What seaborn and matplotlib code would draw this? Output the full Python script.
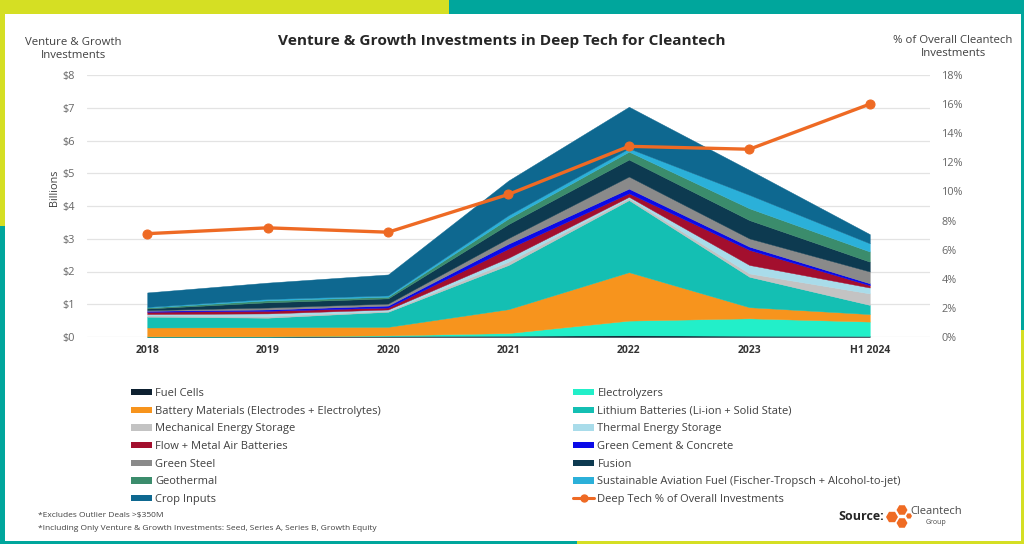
import numpy as np
import pandas as pd
import matplotlib
matplotlib.use("Agg")
import matplotlib.pyplot as plt
import seaborn as sns
from matplotlib.patches import Patch, Rectangle, RegularPolygon
from matplotlib.lines import Line2D
from matplotlib.ticker import FuncFormatter

years = ["2018", "2019", "2020", "2021", "2022", "2023", "H1 2024"]

fuel_cells = [0.01, 0.01, 0.03, 0.04, 0.05, 0.04, 0.03]
electrolyzers = [0.01, 0.01, 0.02, 0.08, 0.45, 0.53, 0.44]
battery_materials = [0.27, 0.28, 0.26, 0.73, 1.48, 0.34, 0.23]
lithium_batteries = [0.33, 0.29, 0.46, 1.35, 2.20, 0.93, 0.28]
mechanical_storage = [0.04, 0.05, 0.03, 0.10, 0.06, 0.10, 0.35]
thermal_storage = [0.04, 0.08, 0.04, 0.12, 0.04, 0.26, 0.18]
flow_metal_air = [0.07, 0.08, 0.06, 0.28, 0.11, 0.46, 0.07]
green_cement = [0.03, 0.04, 0.06, 0.15, 0.14, 0.10, 0.06]
green_steel = [0.02, 0.06, 0.06, 0.17, 0.37, 0.25, 0.36]
fusion = [0.05, 0.16, 0.16, 0.43, 0.52, 0.56, 0.30]
geothermal = [0.03, 0.06, 0.05, 0.17, 0.24, 0.36, 0.31]
saf = [0.02, 0.04, 0.04, 0.10, 0.10, 0.41, 0.25]
crop_inputs = [0.44, 0.50, 0.64, 1.06, 1.27, 0.76, 0.28]

deep_tech_pct = [7.1, 7.5, 7.2, 9.8, 13.1, 12.9, 16.0]

series_names = [
    "Fuel Cells", "Electrolyzers",
    "Battery Materials (Electrodes + Electrolytes)", "Lithium Batteries (Li-ion + Solid State)",
    "Mechanical Energy Storage", "Thermal Energy Storage",
    "Flow + Metal Air Batteries", "Green Cement & Concrete",
    "Green Steel", "Fusion",
    "Geothermal", "Sustainable Aviation Fuel (Fischer-Tropsch + Alcohol-to-jet)",
    "Crop Inputs",
]
series_values = [fuel_cells, electrolyzers, battery_materials, lithium_batteries,
                 mechanical_storage, thermal_storage, flow_metal_air, green_cement,
                 green_steel, fusion, geothermal, saf, crop_inputs]
series_colors = ["#0d2030", "#22efc9", "#f7941d", "#14bfb3",
                 "#c3c3c3", "#a9dcea", "#a30f2e", "#0a0ae8",
                 "#8a8a8a", "#0d3a50", "#3b8c6c", "#2bb0d9",
                 "#0e6890"]
line_label = "Deep Tech % of Overall Investments"
line_color = "#ee6a24"

sns.set_theme(style="white")
plt.rcParams["font.family"] = ["Open Sans", "DejaVu Sans"]

fig = plt.figure(figsize=(10.24, 5.44), dpi=100)
fig.patch.set_facecolor("white")

# decorative frame
yellow = "#d5df23"
teal = "#00a69c"
W, H = 1024.0, 544.0
def frect(x0, y0, x1, y1, c):
    fig.patches.append(Rectangle((x0 / W, 1 - y1 / H), (x1 - x0) / W, (y1 - y0) / H,
                                 transform=fig.transFigure, facecolor=c, edgecolor="none", zorder=0))
frect(0, 0, 449, 14, yellow)
frect(449, 0, 1024, 14, teal)
frect(0, 0, 5, 226, yellow)
frect(0, 226, 5, 544, teal)
frect(1021, 0, 1024, 330, teal)
frect(1021, 330, 1024, 544, yellow)
frect(0, 541, 577, 544, teal)
frect(577, 541, 1024, 544, yellow)

ax = fig.add_axes([87 / W, 1 - 337 / H, (930 - 87) / W, (337 - 75) / H])
x = np.arange(len(years))
ax.stackplot(x, *series_values, colors=series_colors, linewidth=0.3,
             edgecolor="face", zorder=2)
ax.set_xlim(-0.5, len(years) - 0.5)
ax.set_ylim(0, 8)
ax.set_yticks(range(0, 9))
ax.yaxis.set_major_formatter(FuncFormatter(lambda v, p: f"${int(v)}"))
ax.set_xticks(x)
ax.set_xticklabels(years, fontweight="bold", color="#333333", fontsize=7.5)
ax.tick_params(axis="y", colors="#666666", labelsize=7.8, pad=8.5, length=0)
ax.tick_params(axis="x", pad=6, length=0)
ax.grid(axis="y", color="#e3e3e3", linewidth=0.9, zorder=0)
ax.set_axisbelow(True)
for s in ax.spines.values():
    s.set_visible(False)
ax.set_ylabel("")

ax2 = ax.twinx()
df = pd.DataFrame({"x": x, "pct": deep_tech_pct})
sns.lineplot(data=df, x="x", y="pct", ax=ax2, color=line_color, linewidth=2.4,
             marker="o", markersize=6.5, markeredgecolor=line_color, zorder=5)
ax2.set_ylim(0, 18)
ax2.set_yticks(range(0, 19, 2))
ax2.yaxis.set_major_formatter(FuncFormatter(lambda v, p: f"{int(v)}%"))
ax2.tick_params(axis="y", colors="#666666", labelsize=7.8, pad=8.5, length=0)
ax2.set_ylabel("")
ax2.set_xlabel("")
ax2.grid(False)
for s in ax2.spines.values():
    s.set_visible(False)
ax.set_xlim(-0.5, len(years) - 0.5)

# titles and axis labels
fig.text(502 / W, 1 - 41 / H, "Venture & Growth Investments in Deep Tech for Cleantech",
         ha="center", va="center", fontsize=11.1, fontweight="bold", color="#262626")
fig.text(73 / W, 1 - 49 / H, "Venture & Growth\nInvestments", ha="center", va="center",
         fontsize=8.2, color="#404040", linespacing=1.2)
fig.text(953 / W, 1 - 47 / H, "% of Overall Cleantech\nInvestments", ha="center", va="center",
         fontsize=8.2, color="#404040", linespacing=1.15)
fig.text(55 / W, 1 - 188 / H, "Billions", rotation=90, ha="center", va="center",
         fontsize=7.8, color="#404040")

# legend (two columns)
handles = [Patch(facecolor=c, edgecolor="none") for c in series_colors]
handles.append(Line2D([0], [0], color=line_color, linewidth=2.2, marker="o", markersize=5))
labels = series_names + [line_label]
left_idx = list(range(0, 14, 2))
right_idx = list(range(1, 14, 2))
leg_kw = dict(frameon=False, fontsize=8, handlelength=1.9, handleheight=0.5,
              handletextpad=0.3, labelspacing=0.6, borderpad=0, borderaxespad=0,
              labelcolor="#404040", loc="upper left")
leg1 = fig.legend([handles[i] for i in left_idx], [labels[i] for i in left_idx],
                  bbox_to_anchor=(131 / W, 1 - 388 / H), **leg_kw)
leg2 = fig.legend([handles[i] for i in right_idx], [labels[i] for i in right_idx],
                  bbox_to_anchor=(573 / W, 1 - 388 / H), **leg_kw)

# footnotes
fig.text(38 / W, 1 - 515 / H, "*Excludes Outlier Deals >$350M", fontsize=6.0, color="#404040",
         va="center")
fig.text(38 / W, 1 - 528 / H,
         "*Including Only Venture & Growth Investments: Seed, Series A, Series B, Growth Equity",
         fontsize=6.0, color="#404040", va="center")

# source + logo
fig.text(838 / W, 1 - 516 / H, "Source:", fontsize=9, fontweight="bold", color="#262626",
         va="center")
lax = fig.add_axes([886 / W, 1 - 532 / H, 26 / W, 30 / H])
lax.set_xlim(0, 26)
lax.set_ylim(0, 30)
lax.axis("off")
for (hx, hy, r) in [(6, 15, 6), (16, 22, 5.5), (16, 9, 5.5), (23, 16, 3)]:
    lax.add_patch(RegularPolygon((hx, hy), numVertices=6, radius=r, orientation=np.pi / 6,
                                 facecolor="#ef6b23", edgecolor="none"))
fig.text(910 / W, 1 - 511 / H, "Cleantech", fontsize=8, color="#4a4a4a", va="center")
fig.text(926 / W, 1 - 522 / H, "Group", fontsize=5, color="#4a4a4a", va="center")

fig.savefig("out.png", dpi=100, facecolor="white")
